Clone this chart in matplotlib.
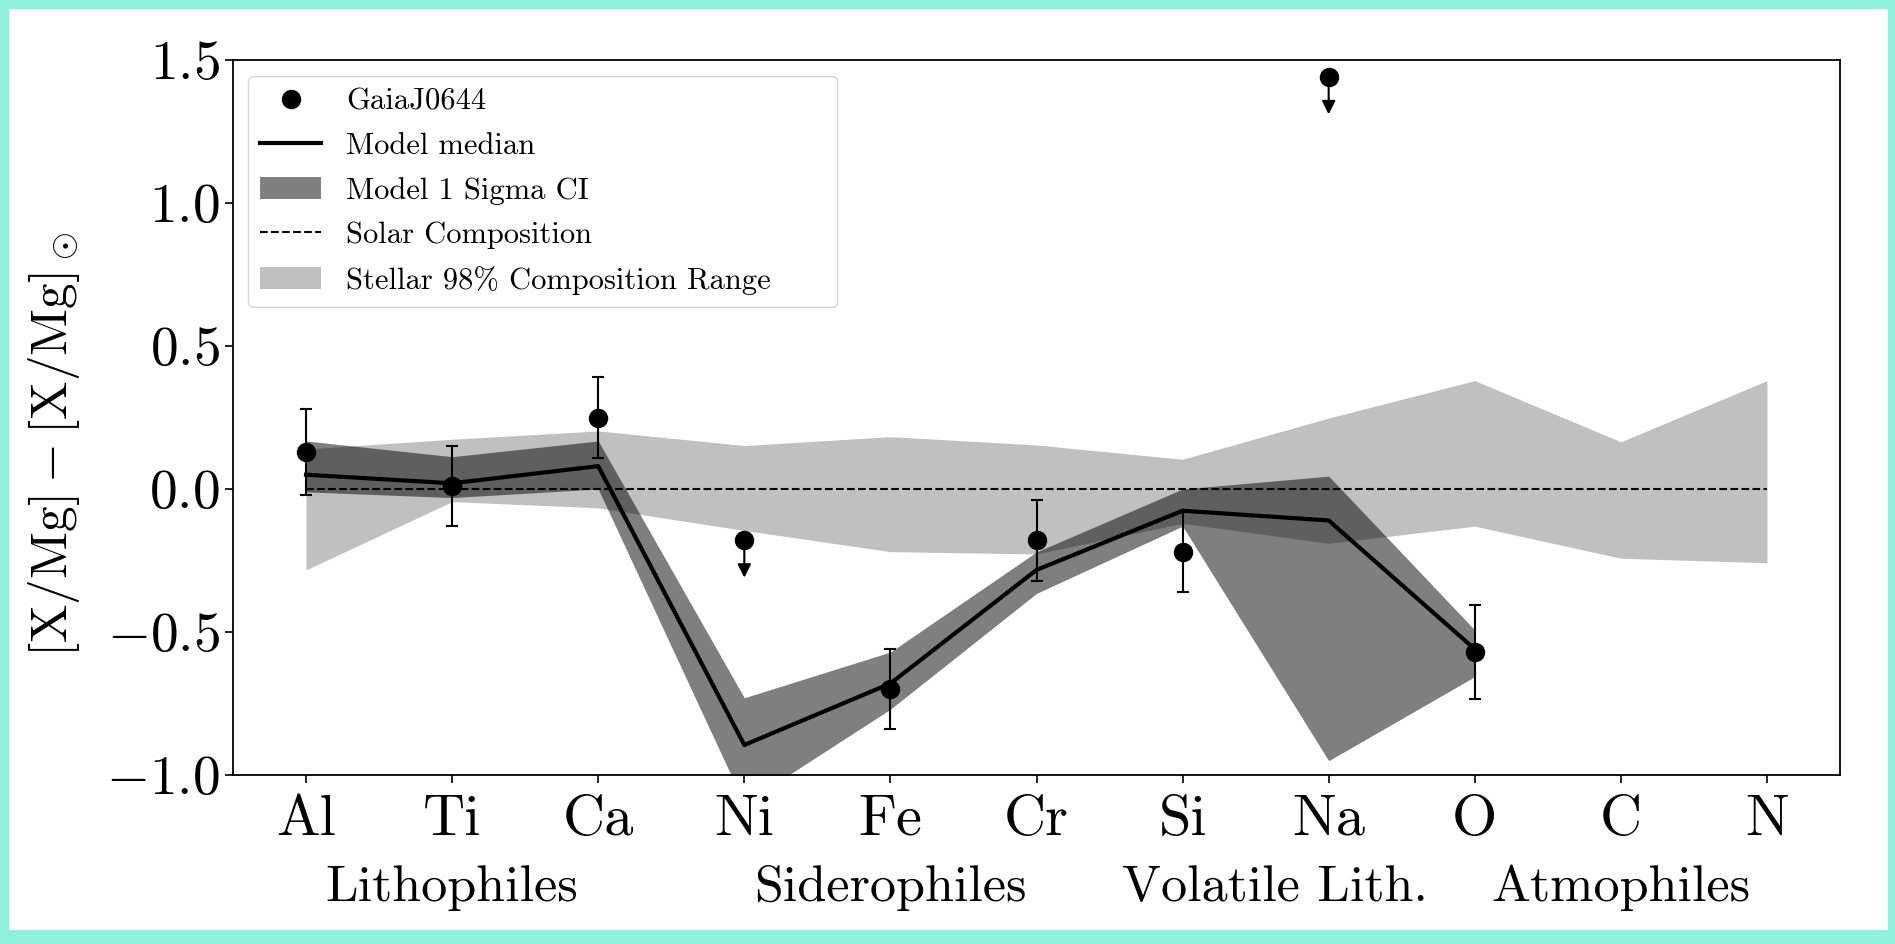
import numpy as np
import matplotlib
matplotlib.use('Agg')
import matplotlib.pyplot as plt
import matplotlib.transforms as mtransforms
from matplotlib.patches import Rectangle
from matplotlib.lines import Line2D

plt.rcParams['font.family'] = 'serif'
plt.rcParams['font.serif'] = ['cmr10']
plt.rcParams['mathtext.fontset'] = 'cm'
plt.rcParams['axes.formatter.use_mathtext'] = True

elements = ['Al', 'Ti', 'Ca', 'Ni', 'Fe', 'Cr', 'Si', 'Na', 'O', 'C', 'N']
groups = ['Lithophiles', 'Siderophiles', 'Volatile Lith.', 'Atmophiles']
group_pos = [1, 4, 6.63, 9]

# observed abundances (Al..O), upper limits flagged
obs = np.array([0.13, 0.01, 0.25, -0.18, -0.70, -0.18, -0.22, 1.44, -0.57])
obs_err = np.array([0.15, 0.14, 0.14, 0.13, 0.14, 0.14, 0.14, 0.13, 0.165])
upper = np.array([False, False, False, True, False, False, False, True, False])

# model posterior
model_median = [0.05, 0.02, 0.08, -0.895, -0.68, -0.283, -0.076, -0.11, -0.56]
model_lo = [-0.01, -0.03, 0.0, -1.10, -0.77, -0.365, -0.13, -0.95, -0.656]
model_hi = [0.168, 0.113, 0.168, -0.73, -0.57, -0.22, 0.0, 0.045, -0.493]

# stellar population range, all elements
stellar_lo = [-0.283, -0.044, -0.066, -0.145, -0.219, -0.227, -0.12, -0.19, -0.13, -0.242, -0.258]
stellar_hi = [0.14, 0.174, 0.203, 0.152, 0.183, 0.154, 0.104, 0.248, 0.379, 0.165, 0.379]
solar = [0.0] * len(elements)

x = np.arange(len(elements))
xm = x[:len(model_median)]

W, H = 1895, 944
fig = plt.figure(figsize=(W / 100, H / 100), dpi=100)
ax = fig.add_axes([233 / W, 1 - 775 / H, (1840 - 233) / W, (775 - 60) / H])

ax.fill_between(x, stellar_lo, stellar_hi, color='silver', lw=0, zorder=1)
ax.fill_between(xm, model_lo, model_hi, color='k', alpha=0.5, lw=0, zorder=2)
ax.plot(x, solar, 'k--', lw=1.5, zorder=3)
ax.plot(xm, model_median, 'k-', lw=3, zorder=4)

det = ~upper
ax.errorbar(xm[det], obs[det], yerr=obs_err[det], fmt='none', ecolor='k',
            elinewidth=1.5, capsize=4, capthick=1.5, zorder=5)
ax.plot(xm, obs, 'o', color='k', ms=13, zorder=6)
for xi, yi, dy in zip(xm[upper], obs[upper], obs_err[upper]):
    ax.annotate('', xy=(xi, yi - dy), xytext=(xi, yi),
                arrowprops=dict(arrowstyle='-|>', color='k', lw=1.5,
                                mutation_scale=20, shrinkA=0, shrinkB=0),
                zorder=5)

ax.set_xlim(-0.5, 10.5)
ax.set_ylim(-1.0, 1.5)
ax.set_yticks([-1.0, -0.5, 0.0, 0.5, 1.0, 1.5])
ax.set_xticks(x)
ax.set_xticklabels(elements)
ax.tick_params(axis='y', labelsize=40, length=6, width=1.2)
ax.tick_params(axis='x', labelsize=42, length=6, width=1.2, pad=8)
for sp in ax.spines.values():
    sp.set_linewidth(1.3)

trans = mtransforms.blended_transform_factory(ax.transData, ax.transAxes)
for gp, name in zip(group_pos, groups):
    ax.text(gp, -0.158, name, transform=trans, ha='center', va='center', fontsize=37.5)

fig.text(54 / W, 1 - 444 / H, r'$\mathrm{[X/Mg]} - \mathrm{[X/Mg]}_\odot$', rotation=90,
         ha='center', va='center', fontsize=37)

handles = [
    Line2D([], [], marker='o', color='k', ls='none', ms=13),
    Line2D([], [], color='k', lw=3),
    plt.Rectangle((0, 0), 1, 1, color='k', alpha=0.5, lw=0),
    Line2D([], [], color='k', ls='--', lw=1.5),
    plt.Rectangle((0, 0), 1, 1, color='silver', lw=0),
]
labels = ['GaiaJ0644', 'Model median', 'Model 1 Sigma CI', 'Solar Composition',
          'Stellar 98% Composition Range']
ax_w = 1840 - 233
leg_x0 = (248 - 233) / ax_w
leg_w = (837 - 248) / ax_w
leg_top = 1 - 16 / 715
ax.legend(handles, labels, loc='upper left', fontsize=22, mode='expand',
          labelspacing=0.55,
          bbox_to_anchor=(leg_x0, leg_top - 0.01, leg_w, 0.01), borderaxespad=0)

# teal frame around the figure
teal = '#8ff0de'
fig.patches.extend([
    Rectangle((0, 1 - 8 / H), 1, 8 / H, transform=fig.transFigure, color=teal, zorder=10),
    Rectangle((0, 0), 1, 14 / H, transform=fig.transFigure, color=teal, zorder=10),
    Rectangle((0, 0), 8 / W, 1, transform=fig.transFigure, color=teal, zorder=10),
    Rectangle((1 - 7 / W, 0), 7 / W, 1, transform=fig.transFigure, color=teal, zorder=10),
])

fig.savefig('out.png', dpi=100)
